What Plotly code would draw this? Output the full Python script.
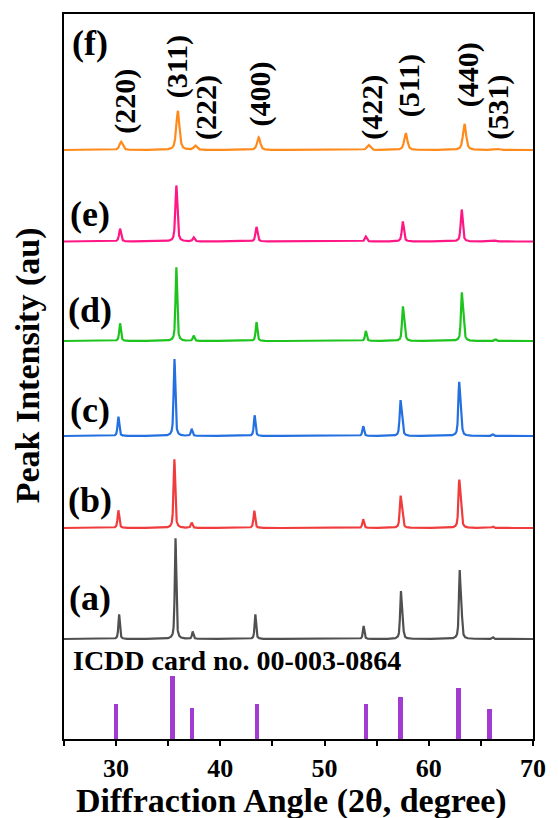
import numpy as np
import plotly.graph_objects as go

# Reflection order for every pattern: (220) (311) (222) (400) (422) (511) (440) (531)
HKL = ["(220)", "(311)", "(222)", "(400)", "(422)", "(511)", "(440)", "(531)"]

# Peak positions (2θ, degree) and heights (au) for each sample
pos_a = [30.29, 35.70, 37.35, 43.36, 53.75, 57.32, 62.96, 66.15]
hgt_a = [24.7, 100.7, 7.3, 24.7, 13.0, 44.0, 64.0, 1.7]
pos_b = [30.22, 35.59, 37.25, 43.26, 53.71, 57.29, 62.92, 66.15]
hgt_b = [17.7, 68.7, 5.3, 17.3, 8.7, 28.7, 43.3, 1.5]
pos_c = [30.22, 35.60, 37.25, 43.29, 53.71, 57.28, 62.91, 66.14]
hgt_c = [19.3, 77.0, 7.0, 20.7, 9.7, 31.7, 48.7, 1.7]
pos_d = [30.38, 35.78, 37.44, 43.47, 53.96, 57.51, 63.16, 66.40]
hgt_d = [17.7, 73.7, 5.3, 19.0, 10.0, 31.0, 43.7, 1.7]
pos_e = [30.38, 35.78, 37.44, 43.47, 53.96, 57.51, 63.16, 66.40]
hgt_e = [12.7, 56.0, 4.0, 14.5, 5.0, 20.0, 32.0, 1.0]
pos_f = [30.48, 35.92, 37.60, 43.68, 54.22, 57.79, 63.43, 66.66]
hgt_f = [8.3, 39.0, 4.3, 12.7, 5.0, 16.7, 26.0, 1.0]

# Kα2 shoulders on the (511) and (440) reflections
sh_pos_a = [57.47, 63.12]
sh_hgt_a = [20.0, 30.0]
sh_pos_b = [57.44, 63.08]
sh_hgt_b = [14.0, 23.0]
sh_pos_c = [57.43, 63.07]
sh_hgt_c = [16.0, 24.0]
sh_pos_d = [57.66, 63.32]
sh_hgt_d = [14.0, 22.0]

# Peak full width at half maximum (degree) per sample
fwhm = {"a": 0.17, "b": 0.19, "c": 0.19, "d": 0.19, "e": 0.23, "f": 0.36}

# Vertical stacking offsets (au)
offsets = {"a": 100, "b": 211, "c": 303, "d": 398, "e": 497.5, "f": 589}

colors = {"a": "#505050", "b": "#F03C3C", "c": "#2470E0", "d": "#1EC41E",
          "e": "#FF1785", "f": "#FF8A1C"}

# Reference card stick pattern (ICDD 00-003-0864)
card_pos = [30.00, 35.41, 37.27, 43.51, 53.96, 57.28, 62.85, 65.82]
card_rel = [56, 100, 49, 56, 55, 67, 80, 47]
card_scale = 0.633

# (hkl) label anchor points above pattern (f)
hkl_x = [30.79, 35.82, 38.57, 43.80, 54.53, 58.13, 63.73, 66.58]
hkl_y = [637.5, 672.5, 631.5, 645.5, 632.0, 653.0, 664.5, 631.5]

# Sample labels
sample_tags = ["(a)", "(b)", "(c)", "(d)", "(e)", "(f)"]
tag_y = [141, 239, 329, 429, 525, 696]

samples = {
    "a": (pos_a + sh_pos_a, hgt_a + sh_hgt_a),
    "b": (pos_b + sh_pos_b, hgt_b + sh_hgt_b),
    "c": (pos_c + sh_pos_c, hgt_c + sh_hgt_c),
    "d": (pos_d + sh_pos_d, hgt_d + sh_hgt_d),
    "e": (pos_e, hgt_e),
    "f": (pos_f, hgt_f),
}

two_theta = np.arange(25.0, 70.0001, 0.01)


def profile(positions, heights, width):
    """Pseudo-Voigt line profile built from a list of reflections."""
    g = width / 2.0
    y = np.zeros_like(two_theta)
    for p, h in zip(positions, heights):
        d = (two_theta - p) / g
        lor = 1.0 / (1.0 + d * d)
        gau = np.exp(-np.log(2.0) * d * d)
        y += h * (0.6 * lor + 0.4 * gau)
    return y


FONT = "Liberation Serif, Times New Roman, serif"

fig = go.Figure()

for key in ["a", "b", "c", "d", "e", "f"]:
    p, h = samples[key]
    fig.add_trace(go.Scatter(
        x=two_theta, y=profile(p, h, fwhm[key]) + offsets[key],
        mode="lines", line=dict(color=colors[key], width=2.2),
        showlegend=False, hoverinfo="skip"))

fig.add_trace(go.Bar(
    x=card_pos, y=[r * card_scale for r in card_rel], width=0.42,
    marker=dict(color="#A03CD2", line=dict(width=0)),
    showlegend=False, hoverinfo="skip"))

annotations = []
for lab, x, y in zip(HKL, hkl_x, hkl_y):
    annotations.append(dict(
        x=x, y=y, xref="x", yref="y", text=lab, textangle=-90,
        showarrow=False, xanchor="center", yanchor="middle",
        font=dict(family=FONT, size=30, color="black", weight="bold")))

for lab, y in zip(sample_tags, tag_y):
    annotations.append(dict(
        x=27.47, y=y, xref="x", yref="y", text=lab, showarrow=False,
        xanchor="center", yanchor="middle",
        font=dict(family=FONT, size=36, color="black", weight="bold")))

annotations.append(dict(
    x=25.70, y=79, xref="x", yref="y", text="ICDD card no. 00-003-0864",
    showarrow=False, xanchor="left", yanchor="middle",
    font=dict(family=FONT, size=28, color="black", weight="bold")))

annotations.append(dict(
    x=-0.078, y=0.516, xref="paper", yref="paper", text="Peak Intensity (au)",
    textangle=-90, showarrow=False, xanchor="center", yanchor="middle",
    font=dict(family=FONT, size=34, color="black", weight="bold")))

annotations.append(dict(
    x=0.485, y=-0.086, xref="paper", yref="paper",
    text="Diffraction Angle (2θ, degree)", showarrow=False,
    xanchor="center", yanchor="middle",
    font=dict(family=FONT, size=34, color="black", weight="bold")))

fig.update_layout(
    width=558, height=818,
    margin=dict(l=64, r=20, t=14, b=79),
    paper_bgcolor="white", plot_bgcolor="white",
    bargap=0,
    annotations=annotations,
    xaxis=dict(
        range=[25, 70], tick0=30, dtick=10, ticks="outside", ticklen=5,
        tickwidth=1.5, tickcolor="black", showline=True, linecolor="black",
        linewidth=1.5, mirror=True, showgrid=False, zeroline=False,
        tickfont=dict(family=FONT, size=26, color="black", weight="bold"),
        minor=dict(dtick=5, tick0=25, ticks="outside", ticklen=5,
                   tickwidth=1.5, tickcolor="black", showgrid=False)),
    yaxis=dict(
        range=[0, 725], showticklabels=False, ticks="", showline=True,
        linecolor="black", linewidth=1.5, mirror=True, showgrid=False,
        zeroline=False),
)

fig.write_html("out.html")
